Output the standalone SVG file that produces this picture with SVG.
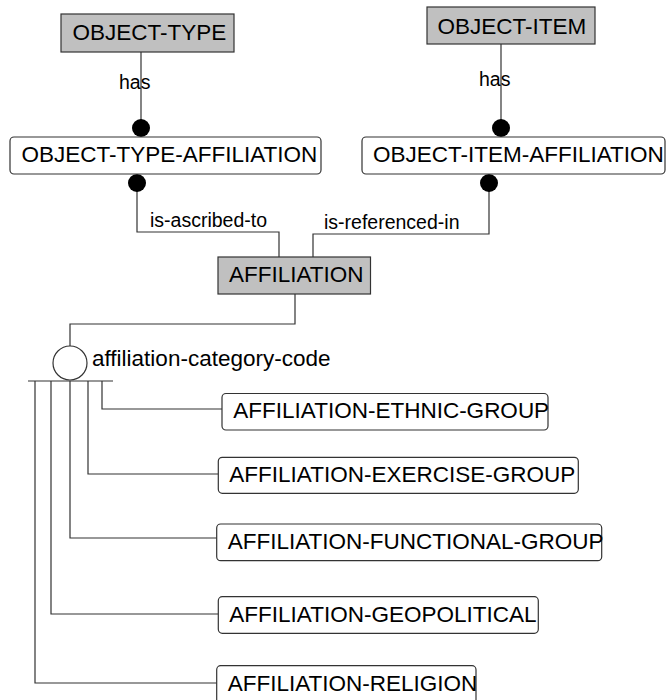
<svg xmlns="http://www.w3.org/2000/svg" width="666" height="700" viewBox="0 0 666 700">
<style>
.ent rect{stroke:#333;stroke-width:1.2}
.ind rect{fill:#c0c0c0}
.dep rect{fill:#fff}
.t{font-family:"Liberation Sans",Arial,sans-serif;font-size:22.5px;fill:#000}
.lbl{font-family:"Liberation Sans",Arial,sans-serif;font-size:19.5px;fill:#000}
#connectors path,#connectors line{fill:none;stroke:#333;stroke-width:1.2}
#connectors circle.dot{fill:#000;stroke:none}
#connectors circle.cat{fill:#fff;stroke:#333;stroke-width:1.2}
</style>
<rect width="666" height="700" fill="#fff"/>
<g id="connectors">
<path d="M141,52 V128"/>
<circle class="dot" cx="141" cy="128" r="9"/>
<path d="M501,44 V128"/>
<circle class="dot" cx="501" cy="128" r="9"/>
<path d="M137,183 V232 H279 V257"/>
<circle class="dot" cx="137" cy="183" r="9"/>
<path d="M489,183 V234 H313 V257"/>
<circle class="dot" cx="489" cy="183" r="9"/>
<path d="M295,294 V324 H70 V346"/>
<circle class="cat" cx="70" cy="363" r="17"/>
<line x1="28" y1="381" x2="113" y2="381"/>
<path d="M102,381 V409 H222"/>
<path d="M88,381 V474 H218"/>
<path d="M70,381 V538 H217"/>
<path d="M51,381 V614 H218"/>
<path d="M35,381 V683 H217"/>
<text class="lbl" x="119" y="89">has</text>
<text class="lbl" x="479" y="85.5">has</text>
<text class="lbl" x="150" y="227">is-ascribed-to</text>
<text class="lbl" x="324" y="229">is-referenced-in</text>
<text class="t" x="92" y="366">affiliation-category-code</text>
</g>
<g id="object-type" class="ent ind"><rect x="61" y="14" width="173" height="38"/><text class="t" x="72.5" y="40">OBJECT-TYPE</text></g>
<g id="object-item" class="ent ind"><rect x="427" y="7" width="168" height="37"/><text class="t" x="437.5" y="34">OBJECT-ITEM</text></g>
<g id="object-type-affiliation" class="ent dep"><rect x="10" y="137" width="311" height="37" rx="4"/><text class="t" x="21.5" y="162">OBJECT-TYPE-AFFILIATION</text></g>
<g id="object-item-affiliation" class="ent dep"><rect x="362" y="137" width="303" height="37" rx="4"/><text class="t" x="373" y="162">OBJECT-ITEM-AFFILIATION</text></g>
<g id="affiliation" class="ent ind"><rect x="218" y="257" width="152.5" height="37"/><text class="t" x="229" y="282">AFFILIATION</text></g>
<g id="affiliation-ethnic-group" class="ent dep"><rect x="222" y="393.5" width="326" height="36.5" rx="4"/><text class="t" x="233.3" y="418.3">AFFILIATION-ETHNIC-GROUP</text></g>
<g id="affiliation-exercise-group" class="ent dep"><rect x="218.3" y="457.3" width="360" height="36" rx="4"/><text class="t" x="229.3" y="482.3">AFFILIATION-EXERCISE-GROUP</text></g>
<g id="affiliation-functional-group" class="ent dep"><rect x="216.7" y="524" width="385" height="36.7" rx="4"/><text class="t" x="227.7" y="549">AFFILIATION-FUNCTIONAL-GROUP</text></g>
<g id="affiliation-geopolitical" class="ent dep"><rect x="218.3" y="596.7" width="320" height="36.6" rx="4"/><text class="t" x="229.3" y="621.7">AFFILIATION-GEOPOLITICAL</text></g>
<g id="affiliation-religion" class="ent dep"><rect x="216.7" y="665.7" width="259.3" height="38" rx="4"/><text class="t" x="227.7" y="690.7">AFFILIATION-RELIGION</text></g>
</svg>
